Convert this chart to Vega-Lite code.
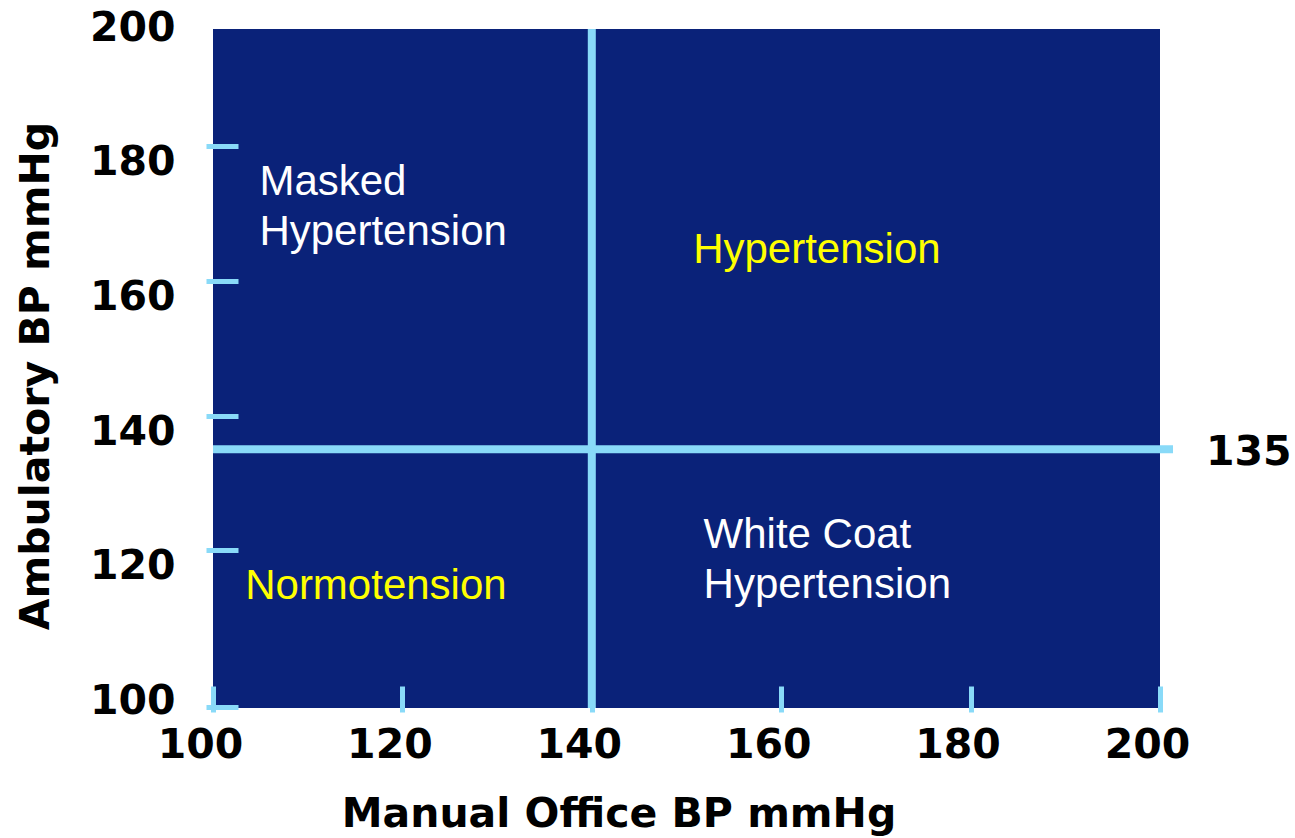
{
  "$schema": "https://vega.github.io/schema/vega-lite/v6.json",
  "width": 947,
  "height": 679,
  "autosize": {"type": "none"},
  "padding": {"left": 213, "top": 29, "right": 135, "bottom": 130},
  "background": "white",
  "config": {"view": {"fill": "#0A2279", "stroke": null}},
  "datasets": {
    "thresholds": [{"office": 140, "ambulatory": 135}],
    "quadrants": [
      {"label": "Masked\nHypertension", "office": 104.9, "ambulatory": 175.3, "agreement": "discordant"},
      {"label": "Hypertension", "office": 150.7, "ambulatory": 165.2, "agreement": "concordant"},
      {"label": "Normotension", "office": 103.4, "ambulatory": 115.4, "agreement": "concordant"},
      {"label": "White Coat\nHypertension", "office": 151.8, "ambulatory": 122.9, "agreement": "discordant"}
    ]
  },
  "resolve": {"axis": {"y": "independent"}},
  "layer": [
    {
      "data": {"name": "quadrants"},
      "mark": {"type": "text", "align": "left", "baseline": "alphabetic", "font": "Liberation Sans", "fontSize": 42, "lineHeight": 50, "lineBreak": "\n"},
      "encoding": {
        "x": {
          "field": "office",
          "type": "quantitative",
          "scale": {"domain": [100, 200], "nice": false, "zero": false},
          "axis": {
            "title": "Manual Office BP mmHg",
            "orient": "bottom",
            "values": [100, 120, 140, 160, 180, 200],
            "offset": 4,
            "domain": false,
            "grid": false,
            "ticks": true,
            "tickSize": -26,
            "tickWidth": 5,
            "tickColor": "#89DAF8",
            "labelOffset": -13,
            "labelPadding": 71,
            "labelBaseline": "alphabetic",
            "labelAlign": "center",
            "labelFlush": false,
            "labelOverlap": false,
            "labelFont": "DejaVu Sans",
            "labelFontWeight": "bold",
            "labelFontSize": 41,
            "labelColor": "black",
            "titleFont": "DejaVu Sans",
            "titleFontWeight": "bold",
            "titleFontSize": 41,
            "titleColor": "black",
            "titleX": 405.5,
            "titleY": 114,
            "titleAlign": "center",
            "titleBaseline": "alphabetic"
          }
        },
        "y": {
          "field": "ambulatory",
          "type": "quantitative",
          "scale": {"domain": [99.14, 200], "nice": false, "zero": false},
          "axis": {
            "title": "Ambulatory BP mmHg",
            "orient": "left",
            "values": [100, 120, 140, 160, 180, 200],
            "offset": 7,
            "domain": false,
            "grid": false,
            "ticks": true,
            "tickSize": -32,
            "tickWidth": 5,
            "tickColor": {"condition": {"test": "datum.value >= 200 || datum.value <= 100", "value": "transparent"}, "value": "#89DAF8"},
            "tickOffset": -17.3,
            "labelOffset": 28.4,
            "labelPadding": 63,
            "labelAlign": "right",
            "labelBaseline": "alphabetic",
            "labelOverlap": false,
            "labelFlush": false,
            "labelFont": "DejaVu Sans",
            "labelFontWeight": "bold",
            "labelFontSize": 41,
            "labelColor": "black",
            "titleFont": "DejaVu Sans",
            "titleFontWeight": "bold",
            "titleFontSize": 41,
            "titleColor": "black",
            "titleAngle": -90,
            "titleX": -158,
            "titleY": 346.5,
            "titleAlign": "center",
            "titleBaseline": "alphabetic"
          }
        },
        "text": {"field": "label"},
        "color": {
          "field": "agreement",
          "type": "nominal",
          "scale": {"domain": ["concordant", "discordant"], "range": ["#FFFF00", "#FFFFFF"]},
          "legend": null
        }
      }
    },
    {
      "data": {"name": "thresholds"},
      "mark": {"type": "rule", "color": "#89DAF8", "strokeWidth": 8},
      "encoding": {
        "x": {"field": "office", "type": "quantitative"}
      }
    },
    {
      "data": {"name": "thresholds"},
      "mark": {"type": "rule", "color": "#89DAF8", "strokeWidth": 8, "yOffset": -17.3, "y2Offset": -17.3, "x2Offset": 13},
      "encoding": {
        "y": {
          "field": "ambulatory",
          "type": "quantitative",
          "axis": {
            "orient": "left",
            "values": [100],
            "offset": 7,
            "domain": false,
            "grid": false,
            "labels": false,
            "ticks": true,
            "tickSize": -32,
            "tickWidth": 5,
            "tickColor": "#89DAF8",
            "tickOffset": 4.5,
            "title": null
          }
        },
        "x": {"datum": 100, "type": "quantitative"},
        "x2": {"datum": 200}
      }
    },
    {
      "data": {"name": "thresholds"},
      "mark": {"type": "text", "align": "left", "baseline": "alphabetic", "dx": 46, "yOffset": -2, "font": "DejaVu Sans", "fontWeight": "bold", "fontSize": 41, "color": "black"},
      "encoding": {
        "y": {
          "field": "ambulatory",
          "type": "quantitative",
          "axis": {"orient": "left", "domain": false, "grid": false, "labels": false, "ticks": false, "title": null}
        },
        "x": {"datum": 200, "type": "quantitative"},
        "text": {"field": "ambulatory", "type": "quantitative"}
      }
    }
  ]
}
